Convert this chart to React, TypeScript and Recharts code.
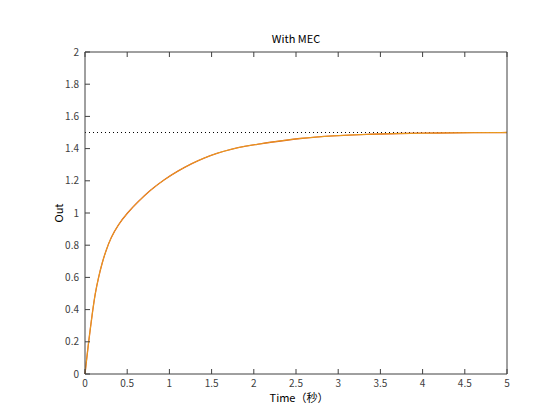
import React from 'react';
import { LineChart, Line, XAxis, YAxis, ReferenceLine } from 'recharts';

const timeS = [0, 0.02, 0.04, 0.06, 0.09, 0.12, 0.16, 0.2, 0.25, 0.31, 0.39, 0.5, 0.62, 0.78, 0.94, 1.1, 1.26, 1.42, 1.57, 1.73, 1.89, 2.05, 2.15, 2.55, 2.94, 3.34, 3.73, 4.2, 4.6, 5.0];
const outOrange = [0, 0.095, 0.185, 0.27, 0.39, 0.5, 0.6, 0.685, 0.77, 0.85, 0.925, 1.0, 1.066, 1.145, 1.208, 1.261, 1.307, 1.344, 1.373, 1.396, 1.415, 1.427, 1.436, 1.465, 1.48, 1.489, 1.494, 1.497, 1.499, 1.5];
const outYellow = [0, 0.095, 0.185, 0.27, 0.39, 0.5, 0.6, 0.685, 0.77, 0.85, 0.925, 1.0, 1.066, 1.145, 1.208, 1.261, 1.307, 1.344, 1.373, 1.396, 1.415, 1.427, 1.436, 1.465, 1.48, 1.489, 1.494, 1.497, 1.499, 1.5];
const xTicks = [0, 0.5, 1, 1.5, 2, 2.5, 3, 3.5, 4, 4.5, 5];
const yTicks = [0, 0.2, 0.4, 0.6, 0.8, 1, 1.2, 1.4, 1.6, 1.8, 2];
const TARGET = 1.5;
const TITLE = 'With MEC';
const X_LABEL = 'Time（秒）';
const Y_LABEL = 'Out';

const data = timeS.map((t, i) => ({ t, a: outOrange[i], b: outYellow[i] }));

const FONT = '"Noto Sans CJK JP", "Noto Sans", sans-serif';
const AXIS = '#404040';
const tickStyle = { fontSize: 10, fill: '#404040', fontFamily: FONT };

export default function App() {
  return (
    <div style={{ position: 'absolute', left: 0, top: 0, width: 560, height: 420, background: '#fff', fontFamily: FONT }}>
      <LineChart
        width={560}
        height={420}
        data={data}
        margin={{ top: 51, right: 52, bottom: 16, left: 0 }}
      >
        <XAxis
          dataKey="t"
          type="number"
          domain={[0, 5]}
          ticks={xTicks}
          interval={0}
          height={30}
          tickSize={-5}
          tickMargin={11}
          stroke={AXIS}
          tick={tickStyle}
        />
        <XAxis
          xAxisId="top"
          orientation="top"
          dataKey="t"
          type="number"
          domain={[0, 5]}
          ticks={xTicks}
          interval={0}
          height={1}
          tickSize={-5}
          tickFormatter={() => ''}
          stroke={AXIS}
        />
        <YAxis
          type="number"
          domain={[0, 2]}
          ticks={yTicks}
          interval={0}
          width={85}
          tickSize={-5}
          tickMargin={11}
          stroke={AXIS}
          tick={tickStyle}
        />
        <YAxis
          yAxisId="right"
          orientation="right"
          type="number"
          domain={[0, 2]}
          ticks={yTicks}
          interval={0}
          width={1}
          tickSize={-5}
          tickFormatter={() => ''}
          stroke={AXIS}
        />
        <ReferenceLine y={TARGET} stroke="#000" strokeDasharray="1 3" strokeWidth={1} />
        <Line dataKey="a" type="basis" stroke="#D95319" strokeWidth={1.3} dot={false} isAnimationActive={false} />
        <Line dataKey="b" type="basis" stroke="#EDB120" strokeWidth={0.8} dot={false} isAnimationActive={false} />
      </LineChart>
      <div style={{ position: 'absolute', left: 85, width: 422, top: 30, textAlign: 'center', fontSize: 11, color: '#000', lineHeight: '16px' }}>
        {TITLE}
      </div>
      <div style={{ position: 'absolute', left: 88, width: 422, top: 389, textAlign: 'center', fontSize: 11, color: '#000', lineHeight: '16px' }}>
        {X_LABEL}
      </div>
      <div style={{ position: 'absolute', left: 58, top: 213, width: 60, marginLeft: -30, marginTop: -8, textAlign: 'center', fontSize: 11, color: '#000', lineHeight: '16px', transform: 'rotate(-90deg)' }}>
        {Y_LABEL}
      </div>
    </div>
  );
}
